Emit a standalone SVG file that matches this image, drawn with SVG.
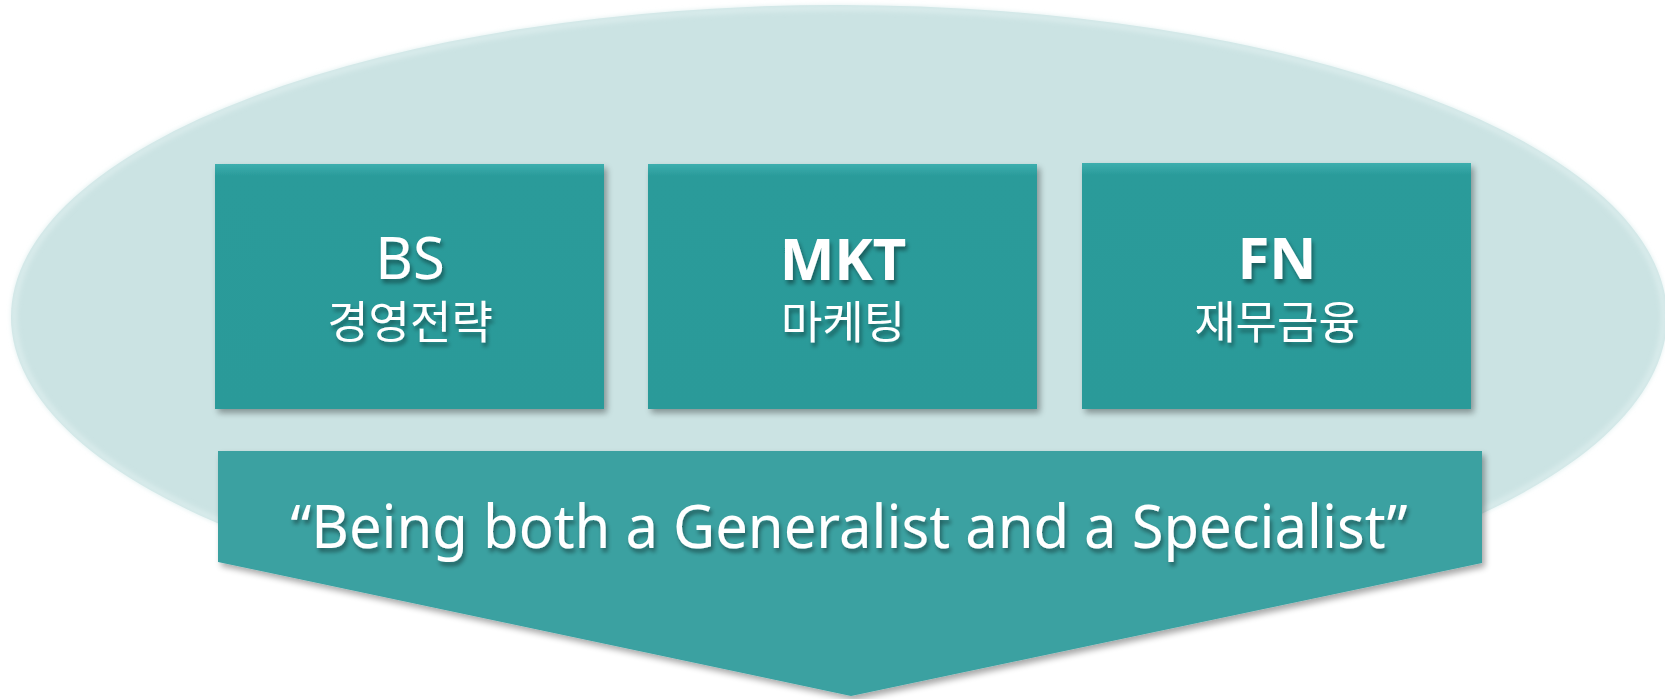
<svg xmlns="http://www.w3.org/2000/svg" width="1665" height="699" viewBox="0 0 1665 699">
  <style>
    .box { fill: url(#boxGrad); filter: url(#boxShadow); }
    .label { fill: #ffffff; text-anchor: middle; filter: url(#textShadow); }
    .title { font-family: "Noto Sans", "Liberation Sans", "Noto Sans CJK KR", sans-serif; font-size: 58px; }
    .bold { font-weight: bold; }
    .kor { font-family: "Noto Sans CJK KR", "Noto Sans", sans-serif; font-size: 45px; font-weight: normal; }
    .banner-text { font-family: "Noto Sans", "Liberation Sans", sans-serif; font-size: 60px; fill: #ffffff; text-anchor: middle; filter: url(#textShadow); }
  </style>
  <defs>
    <linearGradient id="boxGrad" x1="0" y1="0" x2="0" y2="1">
      <stop offset="0" stop-color="#3caeae"/>
      <stop offset="0.05" stop-color="#2a9b9a"/>
      <stop offset="1" stop-color="#299a99"/>
    </linearGradient>
    <filter id="boxShadow" x="-5%" y="-5%" width="112%" height="115%">
      <feGaussianBlur in="SourceAlpha" stdDeviation="3"/>
      <feOffset dx="3" dy="4" result="b"/>
      <feComponentTransfer><feFuncA type="linear" slope="0.35"/></feComponentTransfer>
      <feMerge><feMergeNode/><feMergeNode in="SourceGraphic"/></feMerge>
    </filter>
    <filter id="textShadow" x="-5%" y="-20%" width="110%" height="150%">
      <feGaussianBlur in="SourceAlpha" stdDeviation="2.2"/>
      <feOffset dx="2" dy="4"/>
      <feComponentTransfer><feFuncA type="linear" slope="0.4"/></feComponentTransfer>
      <feMerge><feMergeNode/><feMergeNode in="SourceGraphic"/></feMerge>
    </filter>
    <filter id="rimBlur" x="-5%" y="-5%" width="110%" height="110%">
      <feGaussianBlur stdDeviation="2.5"/>
    </filter>
  </defs>

  <rect width="1665" height="699" fill="#ffffff"/>

  <g id="background-ellipse">
    <ellipse cx="839" cy="317" rx="828" ry="312" fill="#cbe3e3"/>
    <ellipse cx="839" cy="317" rx="825" ry="309" fill="none" stroke="#dbeded" stroke-width="5" filter="url(#rimBlur)"/>
  </g>

  <g id="node-bs">
    <rect class="box" x="215" y="164" width="389" height="245"/>
    <text class="label"><tspan class="title" x="410" y="279">BS</tspan><tspan class="kor" x="410" y="339">경영전략</tspan></text>
  </g>

  <g id="node-mkt">
    <rect class="box" x="648" y="164" width="389" height="245"/>
    <text class="label"><tspan class="title bold" x="843" y="280">MKT</tspan><tspan class="kor" x="843" y="339">마케팅</tspan></text>
  </g>

  <g id="node-fn">
    <rect class="box" x="1082" y="163" width="389" height="246"/>
    <text class="label"><tspan class="title bold" x="1277" y="279">FN</tspan><tspan class="kor" x="1277" y="339">재무금융</tspan></text>
  </g>

  <g id="node-banner">
    <polygon points="218,451 1482,451 1482,563 851,696 218,562" fill="#3aa1a1" filter="url(#boxShadow)"/>
    <text class="banner-text" x="849" y="548" textLength="1117" lengthAdjust="spacingAndGlyphs">“Being both a Generalist and a Specialist”</text>
  </g>
</svg>
